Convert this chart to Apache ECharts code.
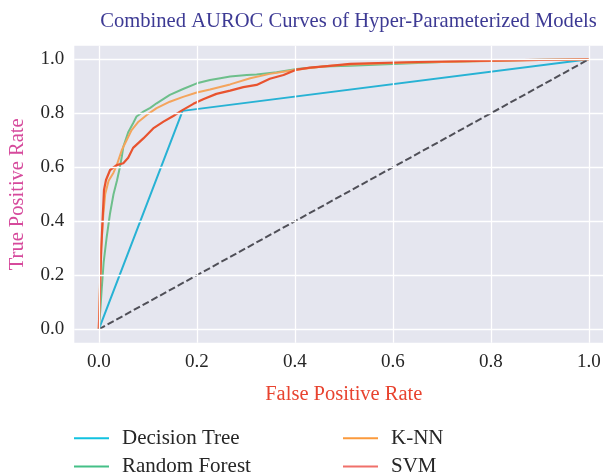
<!DOCTYPE html>
<html>
<head>
<meta charset="utf-8">
<script src="https://cdn.jsdelivr.net/npm/echarts@6/dist/echarts.min.js"></script>
<style>
html,body{margin:0;padding:0;background:#fff;}
#chart{width:603px;height:476px;}
</style>
</head>
<body>
<div id="chart"></div>
<script>
// ---- data ----
const xTicks = [0.0, 0.2, 0.4, 0.6, 0.8, 1.0];
const yTicks = [0.0, 0.2, 0.4, 0.6, 0.8, 1.0];

const dtX = [0, 0.171, 1.0];
const dtY = [0, 0.809, 1.0];

const rfX = [0, 0.003, 0.006, 0.01, 0.016, 0.023, 0.03, 0.037, 0.043, 0.047, 0.05, 0.06, 0.07, 0.077, 0.091, 0.105, 0.118, 0.145, 0.172, 0.2, 0.227, 0.248, 0.268, 0.302, 0.322, 0.363, 0.404, 0.458, 0.513, 0.6, 0.7, 0.8, 0.9, 1.0];
const rfY = [0, 0.07, 0.15, 0.25, 0.34, 0.43, 0.5, 0.55, 0.6, 0.64, 0.676, 0.73, 0.763, 0.788, 0.806, 0.82, 0.837, 0.868, 0.89, 0.911, 0.923, 0.93, 0.936, 0.942, 0.944, 0.952, 0.964, 0.973, 0.976, 0.983, 0.99, 0.995, 0.998, 1.0];

const knnX = [0, 0.002, 0.005, 0.009, 0.013, 0.02, 0.03, 0.037, 0.047, 0.057, 0.067, 0.081, 0.098, 0.118, 0.145, 0.172, 0.2, 0.227, 0.268, 0.309, 0.349, 0.39, 0.431, 0.472, 0.513, 0.6, 0.7, 0.8, 0.9, 1.0];
const knnY = [0, 0.15, 0.3, 0.42, 0.5, 0.55, 0.58, 0.61, 0.664, 0.701, 0.738, 0.769, 0.794, 0.819, 0.843, 0.861, 0.877, 0.888, 0.907, 0.93, 0.946, 0.958, 0.968, 0.976, 0.981, 0.986, 0.99, 0.994, 0.997, 1.0];

const svmX = [0, 0.0025, 0.005, 0.008, 0.0106, 0.0147, 0.023, 0.0365, 0.05, 0.06, 0.07, 0.091, 0.111, 0.132, 0.152, 0.169, 0.193, 0.213, 0.24, 0.268, 0.295, 0.322, 0.349, 0.377, 0.404, 0.431, 0.472, 0.513, 0.628, 0.764, 0.9, 1.0];
const svmY = [0, 0.145, 0.3, 0.417, 0.516, 0.553, 0.59, 0.608, 0.615, 0.635, 0.672, 0.707, 0.744, 0.769, 0.79, 0.81, 0.835, 0.852, 0.872, 0.884, 0.897, 0.905, 0.928, 0.942, 0.962, 0.969, 0.976, 0.983, 0.989, 0.994, 0.998, 1.0];

const diagX = [0, 1];
const diagY = [0, 1];

const names = ['Decision Tree', 'Random Forest', 'K-NN', 'SVM'];
const lineColors = ['#27b2d4', '#6dbf8b', '#f4a45c', '#e8532f'];
const legendColors = ['#12c2e0', '#45c087', '#fb9a3c', '#f0706a'];

// ---- build ----
const zip = (xs, ys) => xs.map((x, i) => [x, ys[i]]);
const FONT = 'Liberation Serif';

const chart = echarts.init(document.getElementById('chart'), null, {renderer: 'canvas'});

const mkSeries = (name, xs, ys, color, w) => ({
  name: name, type: 'line', data: zip(xs, ys),
  showSymbol: false, symbol: 'none', smooth: false,
  lineStyle: {color: color, width: w}, itemStyle: {color: color},
  emphasis: {disabled: true}, silent: true, animation: false
});

const gridLines = (axisKey, ticks) => ticks.map(t => ({[axisKey]: t}));

const legendBase = {
  orient: 'vertical', top: 424, height: 120, padding: 0,
  icon: 'rect', itemWidth: 35, itemHeight: 2, itemGap: 0,
  textStyle: {fontFamily: FONT, fontSize: 21, color: '#262626', lineHeight: 28.4, padding: [0, 0, 0, 8]},
  selectedMode: false
};

const option = {
  animation: false,
  backgroundColor: '#ffffff',
  title: {
    text: 'Combined AUROC Curves of Hyper-Parameterized Models',
    left: 343.5, top: 6, textAlign: 'center',
    textStyle: {fontFamily: FONT, fontSize: 20.6, fontWeight: 'normal', color: '#3d3a94'}
  },
  grid: {left: 74.3, top: 45.8, width: 539, height: 297, show: true,
         backgroundColor: '#e5e6ef', borderWidth: 0, containLabel: false,
         outerBoundsMode: 'none'},
  xAxis: {
    type: 'value', min: -0.05, max: 1.05,
    name: 'False Positive Rate', nameLocation: 'middle', nameGap: 41,
    nameTextStyle: {fontFamily: FONT, fontSize: 20.5, color: '#e8432f'},
    axisLine: {show: false}, axisTick: {show: false, customValues: xTicks},
    axisLabel: {customValues: xTicks, margin: 10, fontFamily: FONT, fontSize: 19, color: '#262626',
                formatter: v => v.toFixed(1)},
    splitLine: {show: false}
  },
  yAxis: {
    type: 'value', min: -0.05, max: 1.05,
    name: 'True Positive Rate', nameLocation: 'middle', nameGap: 46,
    nameTextStyle: {fontFamily: FONT, fontSize: 20.5, color: '#d64a9c'},
    axisLine: {show: false}, axisTick: {show: false, customValues: yTicks},
    axisLabel: {customValues: yTicks, margin: 10, fontFamily: FONT, fontSize: 19, color: '#262626',
                formatter: v => v.toFixed(1)},
    splitLine: {show: false}
  },
  legend: [
    Object.assign({}, legendBase, {
      left: 74,
      data: [
        {name: names[0], itemStyle: {color: legendColors[0]}},
        {name: names[1], itemStyle: {color: legendColors[1]}}
      ]
    }),
    Object.assign({}, legendBase, {
      left: 343,
      data: [
        {name: names[2], itemStyle: {color: legendColors[2]}},
        {name: names[3], itemStyle: {color: legendColors[3]}}
      ]
    })
  ],
  series: [
    {
      name: 'grid', type: 'line', data: [], silent: true,
      markLine: {
        silent: true, symbol: ['none', 'none'], label: {show: false}, animation: false,
        lineStyle: {color: '#ffffff', width: 1.3, type: 'solid'},
        emphasis: {disabled: true},
        data: gridLines('xAxis', xTicks).concat(gridLines('yAxis', yTicks))
      }
    },
    mkSeries(names[0], dtX, dtY, lineColors[0], 2),
    mkSeries(names[1], rfX, rfY, lineColors[1], 2),
    mkSeries(names[2], knnX, knnY, lineColors[2], 2),
    mkSeries(names[3], svmX, svmY, lineColors[3], 2.2),
    {
      name: 'diag', type: 'line', data: zip(diagX, diagY), showSymbol: false, symbol: 'none',
      lineStyle: {color: '#4f4f57', width: 2, type: [7, 3]}, silent: true
    }
  ]
};
chart.setOption(option);
</script>
</body>
</html>
